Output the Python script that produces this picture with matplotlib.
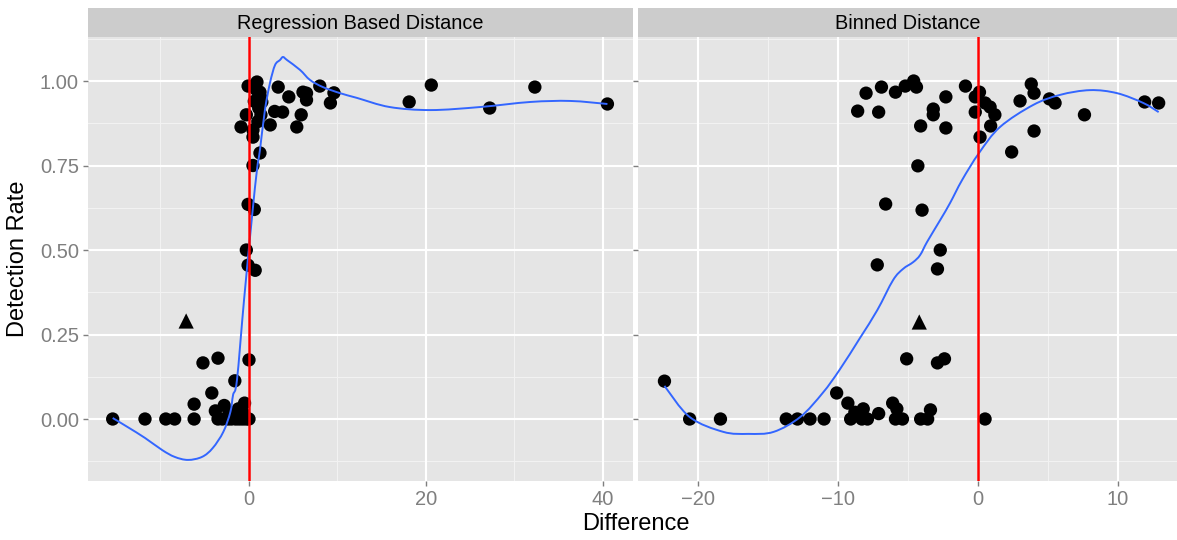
import matplotlib
matplotlib.use("Agg")
import matplotlib.pyplot as plt
from matplotlib.path import Path
from matplotlib.patches import PathPatch
import numpy as np

plt.rcParams['font.family'] = ['Liberation Sans', 'DejaVu Sans']

# ---------------- data ----------------
panel_titles = ["Regression Based Distance", "Binned Distance"]

# Regression based distance panel
reg_x = [-15.4, -11.75, -9.4, -8.4, -6.2, -3.5, -3.0, -2.4, -2.0, -1.5, -1.1, -0.7, -0.3, 0.0,
         -6.2, -4.2, -3.8, -2.8, -0.5, -2.2, -1.2, -0.6,
         -5.2, -3.5, 0.0, -1.6,
         -0.3, -0.1, 0.7, -0.1, 0.6, 0.45, 1.24,
         -0.1, 0.9, 1.24, 1.35, 1.45, 1.1, 1.35, -0.3, -0.9, 0.45, 0.45, 2.4, 3.3, 4.5,
         2.9, 3.8, 6.1, 6.5, 6.5, 5.9, 5.4, 8.0, 9.6, 9.2, 18.1, 20.6, 27.2, 32.3, 40.5,
         0.6, 1.0, 0.8]
reg_y = [0, 0, 0, 0, 0, 0, 0, 0, 0, 0, 0, 0, 0, 0,
         0.044, 0.077, 0.024, 0.04, 0.047, 0.02, 0.03, 0.016,
         0.166, 0.18, 0.175, 0.113,
         0.5, 0.455, 0.44, 0.635, 0.62, 0.75, 0.787,
         0.985, 0.997, 0.967, 0.95, 0.938, 0.92, 0.9, 0.9, 0.864, 0.855, 0.834, 0.87, 0.982, 0.953,
         0.91, 0.908, 0.967, 0.964, 0.944, 0.9, 0.864, 0.985, 0.965, 0.935, 0.938, 0.988, 0.92, 0.982, 0.932,
         0.94, 0.88, 0.975]
reg_tri_x = [-7.1]
reg_tri_y = [0.29]

# Binned distance panel
bin_x = [-20.6, -18.4, -13.7, -12.9, -12.0, -11.0, -9.1, -8.3, -7.9, -5.9, -5.4, -4.1, -3.6, 0.5,
         -10.1, -9.3, -8.8, -8.2, -7.1, -6.1, -5.8, -3.4,
         -22.4, -5.1, -2.9, -2.4,
         -7.2, -2.7, -2.9, -6.6, -4.0, -4.3,
         -8.6, -8.0, -6.9, -7.1, -5.9, -5.2, -4.6, -4.4, -3.2, -3.2, -4.1, -2.3, -2.3, -0.9,
         -0.2, 0.1, -0.2, 0.5, 0.86, 1.2, 0.9, 0.14, 2.4, 3.0, 3.8, 4.0, 4.0, 5.1, 5.5, 7.6,
         11.9, 12.9]
bin_y = [0, 0, 0, 0, 0, 0, 0, 0, 0, 0, 0, 0, 0, 0,
         0.077, 0.047, 0.02, 0.03, 0.016, 0.047, 0.03, 0.027,
         0.112, 0.178, 0.166, 0.178,
         0.456, 0.5, 0.444, 0.636, 0.618, 0.749,
         0.911, 0.964, 0.982, 0.908, 0.967, 0.985, 1.0, 0.982, 0.917, 0.9, 0.867, 0.953, 0.861, 0.985,
         0.953, 0.967, 0.908, 0.935, 0.923, 0.9, 0.867, 0.834, 0.79, 0.941, 0.991, 0.964, 0.852, 0.947, 0.935, 0.9,
         0.938, 0.935]
bin_tri_x = [-4.2]
bin_tri_y = [0.287]

# loess smooth curves
reg_smooth_x = [-15.4, -13.7, -11.75, -9.8, -8.4, -6.9, -5.3, -4.1, -2.9, -2.1, -1.8, -1.36, -0.56,
                0.34, 0.9, 1.24, 1.8, 2.37, 2.94, 3.5, 3.84, 4.3, 5.76, 6.9, 8.36, 10.3, 12.2,
                15.9, 20.5, 26.1, 31.8, 36.3, 40.5]
reg_smooth_y = [0.003, -0.024, -0.056, -0.092, -0.112, -0.121, -0.112, -0.086, -0.038, 0.021, 0.071,
                0.115, 0.352, 0.598, 0.737, 0.796, 0.914, 0.994, 1.047, 1.062, 1.071, 1.062, 1.033,
                1.003, 0.982, 0.964, 0.95, 0.923, 0.914, 0.923, 0.938, 0.941, 0.932]

bin_smooth_x = [-22.4, -20.6, -18.2, -16.4, -14.6, -12.7, -11.1, -9.9, -8.43, -7.2, -6.07, -5.36,
                -4.64, -4.14, -3.64, -2.7, -2.0, -1.14, 0.07, 1.57, 3.93, 5.86, 8.0, 9.93, 11.8, 12.9]
bin_smooth_y = [0.098, 0.006, -0.038, -0.044, -0.038, 0.006, 0.077, 0.145, 0.24, 0.322, 0.411, 0.444,
                0.464, 0.485, 0.524, 0.589, 0.639, 0.707, 0.787, 0.864, 0.929, 0.959, 0.973, 0.964,
                0.935, 0.908]

y_ticks = [0.0, 0.25, 0.5, 0.75, 1.0]
y_minor = [-0.125, 0.125, 0.375, 0.625, 0.875, 1.125]
reg_xticks = [0, 20, 40]
reg_xminor = [-10, 10, 30]
bin_xticks = [-20, -10, 0, 10]
bin_xminor = [-15, -5, 5]

# ---------------- figure ----------------
W, H = 1177, 540
fig = plt.figure(figsize=(W / 100, H / 100), dpi=100)

def px_axes(x0, y0, x1, y1):
    return fig.add_axes([x0 / W, 1 - y1 / H, (x1 - x0) / W, (y1 - y0) / H])

def smooth_path(xs, ys):
    """Draw a polyline through the read points as a smooth (Catmull-Rom style) Bezier path."""
    P = np.column_stack([xs, ys]).astype(float)
    n = len(P)
    verts = [P[0]]
    codes = [Path.MOVETO]
    for i in range(n - 1):
        p0 = P[i - 1] if i > 0 else P[i]
        p1, p2 = P[i], P[i + 1]
        p3 = P[i + 2] if i + 2 < n else P[i + 1]
        c1 = p1 + (p2 - p0) / 6.0
        c2 = p2 - (p3 - p1) / 6.0
        verts += [c1, c2, p2]
        codes += [Path.CURVE4] * 3
    return Path(verts, codes)

BG = "#E5E5E5"
GREY = "#7F7F7F"
ylim = (-0.1834, 1.1302)

panels = [
    dict(box=(88, 37, 633, 481), xlim=(-18.19, 43.39), x=reg_x, y=reg_y, tx=reg_tri_x, ty=reg_tri_y,
         sx=reg_smooth_x, sy=reg_smooth_y, ticks=reg_xticks, minor=reg_xminor, title=panel_titles[0]),
    dict(box=(638, 37, 1177, 481), xlim=(-24.29, 14.21), x=bin_x, y=bin_y, tx=bin_tri_x, ty=bin_tri_y,
         sx=bin_smooth_x, sy=bin_smooth_y, ticks=bin_xticks, minor=bin_xminor, title=panel_titles[1]),
]

for i, p in enumerate(panels):
    x0, y0, x1, y1 = p["box"]
    ax = px_axes(x0, y0, x1, y1)
    ax.set_facecolor(BG)
    ax.set_xlim(*p["xlim"])
    ax.set_ylim(*ylim)
    for s in ax.spines.values():
        s.set_visible(False)
    for m in p["minor"]:
        ax.axvline(m, color="#F2F2F2", lw=0.75, zorder=0.5)
    for m in y_minor:
        ax.axhline(m, color="#F2F2F2", lw=0.75, zorder=0.5)
    for t in p["ticks"]:
        ax.axvline(t, color="white", lw=1.5, zorder=0.6)
    for t in y_ticks:
        ax.axhline(t, color="white", lw=1.5, zorder=0.6)

    ax.scatter(p["x"], p["y"], s=92, color="black", edgecolors="none", zorder=3)
    ax.scatter(p["tx"], p["ty"], s=120, marker="^", color="black", edgecolors="none", zorder=3)
    ax.add_patch(PathPatch(smooth_path(p["sx"], p["sy"]), facecolor="none", edgecolor="#3366FF",
                           lw=1.4, zorder=4))
    ax.axvline(0, color="red", lw=1.8, zorder=5)

    ax.set_xticks(p["ticks"])
    ax.set_xticklabels([str(t).replace("-", "\u2212") for t in p["ticks"]])
    ax.set_yticks(y_ticks)
    if i == 0:
        ax.set_yticklabels(["%.2f" % v for v in y_ticks])
    else:
        ax.set_yticklabels([])
        ax.tick_params(axis="y", length=0)
    ax.tick_params(axis="both", colors=GREY, labelcolor=GREY, labelsize=14.5, length=3.5,
                   width=1.0, direction="out", pad=3)

    # strip
    sax = px_axes(x0, 8, x1, 37)
    sax.set_facecolor("#CCCCCC")
    sax.set_xticks([]); sax.set_yticks([])
    for s in sax.spines.values():
        s.set_visible(False)
    sax.text(0.5, 0.45, p["title"], ha="center", va="center", fontsize=14.3, color="black",
             transform=sax.transAxes)

fig.text(636 / W, 1 - 524 / H, "Difference", ha="center", va="center", fontsize=17, color="black")
fig.text(18 / W, 1 - 259 / H, "Detection Rate", ha="center", va="center", rotation=90,
         fontsize=17, color="black")

fig.savefig("out.png", dpi=100)
